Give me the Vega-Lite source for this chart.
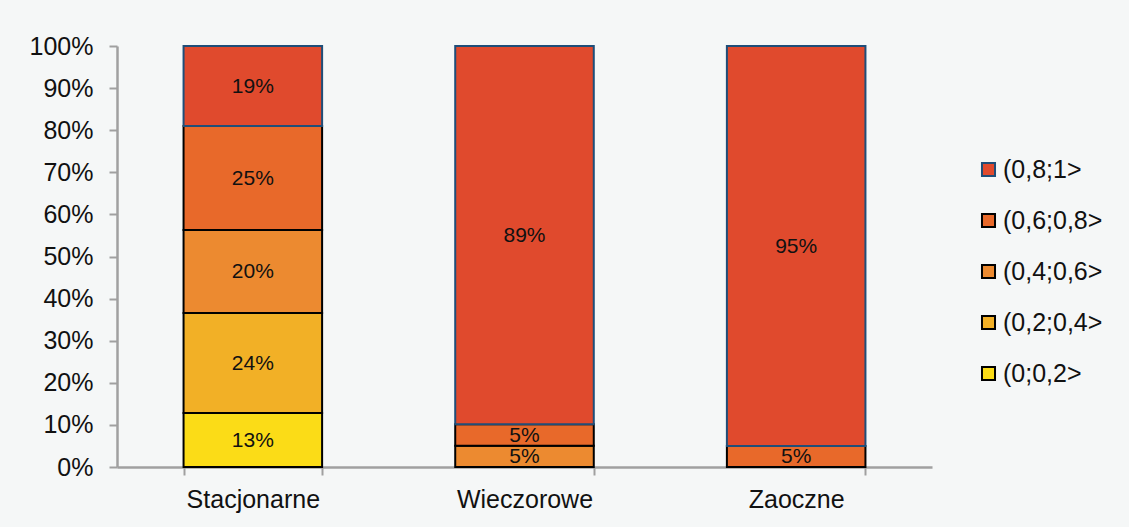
{
  "$schema": "https://vega.github.io/schema/vega-lite/v6.json",
  "width": 815,
  "height": 421,
  "autosize": {"type": "none"},
  "padding": {"left": 117, "top": 46, "right": 197, "bottom": 60},
  "background": "#F5F7F7",
  "data": {
    "values": [
      {"kategoria": "Stacjonarne", "przedzial": "(0;0,2>", "rank": 1, "wartosc": 0.128},
      {"kategoria": "Stacjonarne", "przedzial": "(0,2;0,4>", "rank": 2, "wartosc": 0.238},
      {"kategoria": "Stacjonarne", "przedzial": "(0,4;0,6>", "rank": 3, "wartosc": 0.197},
      {"kategoria": "Stacjonarne", "przedzial": "(0,6;0,8>", "rank": 4, "wartosc": 0.247},
      {"kategoria": "Stacjonarne", "przedzial": "(0,8;1>", "rank": 5, "wartosc": 0.19},
      {"kategoria": "Wieczorowe", "przedzial": "(0,4;0,6>", "rank": 3, "wartosc": 0.0505},
      {"kategoria": "Wieczorowe", "przedzial": "(0,6;0,8>", "rank": 4, "wartosc": 0.0505},
      {"kategoria": "Wieczorowe", "przedzial": "(0,8;1>", "rank": 5, "wartosc": 0.894},
      {"kategoria": "Zaoczne", "przedzial": "(0,6;0,8>", "rank": 4, "wartosc": 0.05},
      {"kategoria": "Zaoczne", "przedzial": "(0,8;1>", "rank": 5, "wartosc": 0.95}
    ]
  },
  "transform": [
    {"stack": "wartosc", "groupby": ["kategoria"], "sort": [{"field": "rank", "order": "ascending"}], "offset": "normalize", "as": ["lo", "hi"]}
  ],
  "encoding": {
    "x": {
      "field": "kategoria",
      "type": "nominal",
      "sort": ["Stacjonarne", "Wieczorowe", "Zaoczne"],
      "scale": {"paddingInner": 0.49, "paddingOuter": 0.245},
      "axis": {
        "title": null,
        "labelAngle": 0,
        "tickBand": "extent",
        "domainColor": "#A0A0A0",
        "domainWidth": 2.5,
        "tickColor": "#A0A0A0",
        "tickWidth": 2,
        "tickSize": 8,
        "labelFont": "Liberation Sans",
        "labelFontSize": 25,
        "labelColor": "#111111",
        "labelPadding": 12
      }
    }
  },
  "layer": [
    {
      "mark": {"type": "bar", "strokeWidth": 2},
      "encoding": {
        "y": {
          "field": "lo",
          "type": "quantitative",
          "scale": {"domain": [0, 1], "nice": false},
          "axis": {
            "title": null,
            "format": ".0%",
            "values": [0, 0.1, 0.2, 0.3, 0.4, 0.5, 0.6, 0.7, 0.8, 0.9, 1],
            "grid": false,
            "domainColor": "#A0A0A0",
            "domainWidth": 2.5,
            "tickColor": "#A0A0A0",
            "tickWidth": 2,
            "tickSize": 8,
            "labelFont": "Liberation Sans",
            "labelFontSize": 25,
            "labelColor": "#111111",
            "labelPadding": 16
          }
        },
        "y2": {"field": "hi"},
        "fill": {
          "field": "przedzial",
          "type": "nominal",
          "scale": {
            "domain": ["(0,8;1>", "(0,6;0,8>", "(0,4;0,6>", "(0,2;0,4>", "(0;0,2>"],
            "range": ["#E04A2D", "#E8692A", "#EC8A30", "#F2B026", "#FBDC17"]
          },
          "legend": {
            "title": null,
            "orient": "none",
            "legendX": 859,
            "legendY": 111,
            "padding": 0,
            "symbolType": "square",
            "symbolSize": 170,
            "symbolStrokeWidth": 2,
            "symbolOpacity": 1,
            "rowPadding": 25,
            "labelFont": "Liberation Sans",
            "labelFontSize": 25,
            "labelColor": "#111111",
            "labelOffset": 2
          }
        },
        "stroke": {
          "field": "przedzial",
          "type": "nominal",
          "scale": {
            "domain": ["(0,8;1>", "(0,6;0,8>", "(0,4;0,6>", "(0,2;0,4>", "(0;0,2>"],
            "range": ["#1F4E79", "#000000", "#000000", "#000000", "#000000"]
          }
        },
        "order": {"field": "rank", "type": "quantitative"}
      }
    },
    {
      "transform": [
        {"fold": ["lo", "hi"], "as": ["krawedz", "poz"]},
        {"aggregate": [{"op": "mean", "field": "poz", "as": "srodek"}], "groupby": ["kategoria", "przedzial", "wartosc"]}
      ],
      "mark": {"type": "text", "font": "Liberation Sans", "fontSize": 21, "color": "#111111", "baseline": "middle", "dy": 1},
      "encoding": {
        "y": {"field": "srodek", "type": "quantitative"},
        "text": {"field": "wartosc", "type": "quantitative", "format": ".0%"}
      }
    }
  ],
  "config": {"view": {"stroke": null}}
}
